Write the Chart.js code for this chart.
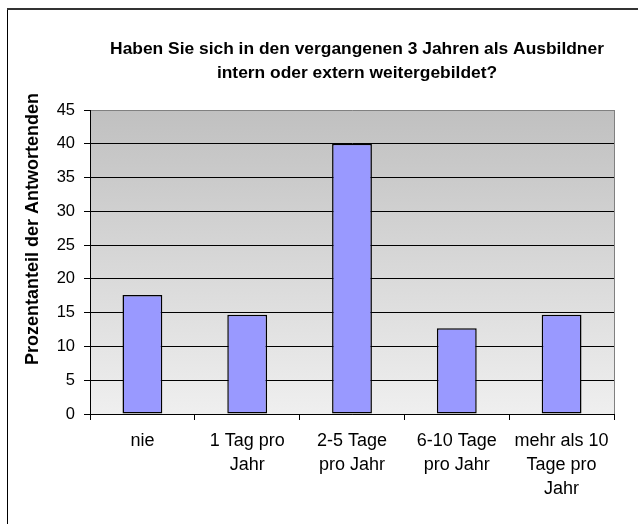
<!DOCTYPE html>
<html>
<head>
<meta charset="utf-8">
<script src="https://cdn.jsdelivr.net/npm/chart.js@4/dist/chart.umd.min.js"></script>
<style>
html,body{margin:0;padding:0;background:#fff;}
#wrap{width:638px;height:524px;}
</style>
</head>
<body>
<div id="wrap"><canvas id="c" width="638" height="524"></canvas></div>
<script>
const titleLines = ["Haben Sie sich in den vergangenen 3 Jahren als Ausbildner", "intern oder extern weitergebildet?"];
const yAxisTitle = "Prozentanteil der Antwortenden";
const categories = [["nie"], ["1 Tag pro", "Jahr"], ["2-5 Tage", "pro Jahr"], ["6-10 Tage", "pro Jahr"], ["mehr als 10", "Tage pro", "Jahr"]];
const values = [17.6, 14.7, 40, 12.7, 14.7];
const yMin = 0;
const yMax = 45;
const yStep = 5;

const FONT = '"Liberation Sans", Arial, sans-serif';

const decor = {
  id: 'decor',
  beforeDraw(chart) {
    const ctx = chart.ctx;
    const a = chart.chartArea;
    ctx.save();
    ctx.fillStyle = '#fff';
    ctx.fillRect(0, 0, chart.width, chart.height);
    // outer frame
    ctx.strokeStyle = '#000';
    ctx.lineWidth = 1;
    ctx.beginPath();
    ctx.moveTo(7.5, 9);
    ctx.lineTo(7.5, chart.height + 2);
    ctx.stroke();
    ctx.strokeStyle = '#333';
    ctx.lineWidth = 2;
    ctx.beginPath();
    ctx.moveTo(7, 9);
    ctx.lineTo(chart.width + 2, 9);
    ctx.stroke();
    // plot background gradient
    const g = ctx.createLinearGradient(0, a.top, 0, a.bottom);
    g.addColorStop(0, '#c0c0c0');
    g.addColorStop(1, '#efefef');
    ctx.fillStyle = g;
    ctx.fillRect(a.left, a.top, a.right - a.left, a.bottom - a.top);
    // right border of plot
    ctx.strokeStyle = '#808080';
    ctx.lineWidth = 1;
    ctx.beginPath();
    ctx.moveTo(a.right + 0.5, a.top);
    ctx.lineTo(a.right + 0.5, a.bottom);
    ctx.stroke();
    ctx.restore();
  },
  afterDraw(chart) {
    const ctx = chart.ctx;
    ctx.save();
    ctx.fillStyle = '#000';
    ctx.font = 'bold 17.4px ' + FONT;
    ctx.textAlign = 'center';
    ctx.textBaseline = 'alphabetic';
    ctx.fillText(titleLines[0], 357, 54);
    ctx.fillText(titleLines[1], 357, 78);
    ctx.translate(38, 229);
    ctx.rotate(-Math.PI / 2);
    ctx.font = 'bold 18px ' + FONT;
    ctx.fillText(yAxisTitle, 0, 0);
    ctx.restore();
  }
};

new Chart(document.getElementById('c'), {
  type: 'bar',
  data: {
    labels: categories,
    datasets: [{
      data: values,
      backgroundColor: '#9999ff',
      borderColor: '#000',
      borderWidth: 1.5,
      borderSkipped: false,
      barPercentage: 0.38,
      categoryPercentage: 1
    }]
  },
  options: {
    responsive: false,
    animation: false,
    devicePixelRatio: 1,
    layout: { padding: { left: 0, right: 24, top: 110, bottom: 0 } },
    plugins: { legend: { display: false }, title: { display: false }, tooltip: { enabled: false } },
    scales: {
      x: {
        afterFit(s) { s.height = 110; },
        grid: { drawOnChartArea: false, drawTicks: true, tickLength: 6, color: '#000', offset: true },
        border: { color: '#000', width: 1 },
        ticks: { color: '#000', padding: 9, font: { family: FONT, size: 18, lineHeight: 1.333 }, maxRotation: 0, autoSkip: false }
      },
      y: {
        min: yMin,
        max: yMax,
        afterFit(s) { s.width = 90; },
        grid: {
          color: (c) => (c.tick && c.tick.value === yMax ? '#808080' : '#000'),
          tickColor: '#000',
          tickLength: 6,
          drawTicks: true
        },
        border: { color: '#000', width: 1 },
        ticks: { stepSize: yStep, color: '#000', padding: 9, font: { family: FONT, size: 16.5 } }
      }
    }
  },
  plugins: [decor]
});
</script>
</body>
</html>
